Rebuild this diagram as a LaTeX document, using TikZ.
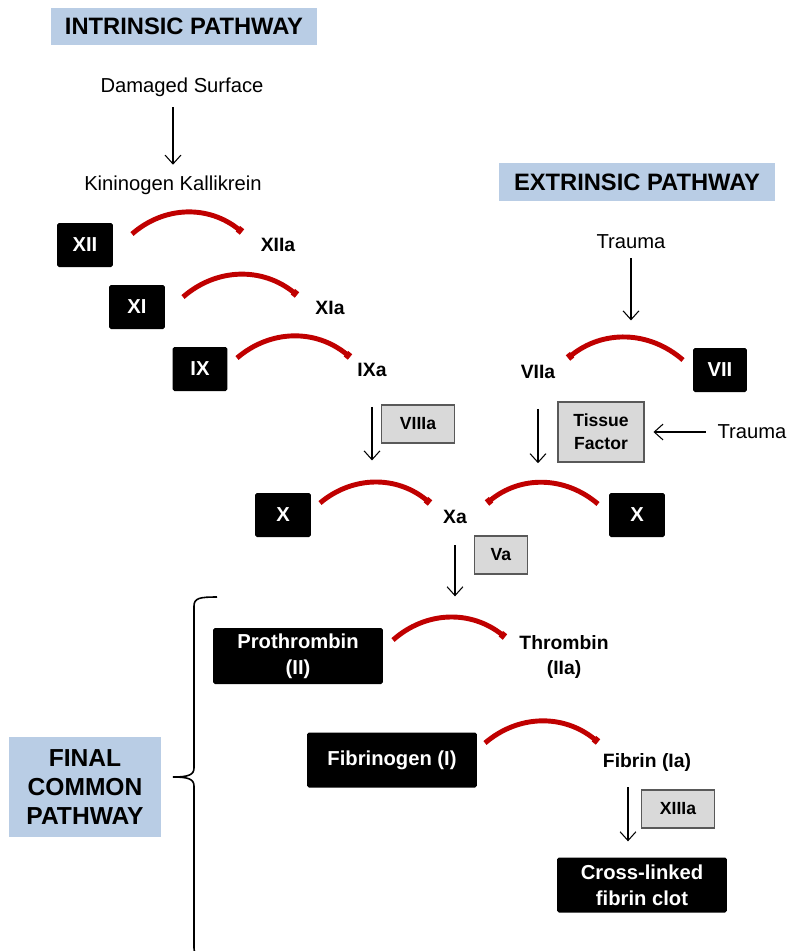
\documentclass[tikz,border=0pt]{standalone}
\usepackage{fontspec}
\setmainfont{Liberation Sans}
\usetikzlibrary{arrows.meta,calc}

\definecolor{headblue}{RGB}{185,205,229}
\definecolor{facgrey}{RGB}{217,217,217}
\definecolor{arcred}{RGB}{192,0,0}

\tikzset{
  head/.style={fill=headblue, inner sep=0, font=\bfseries\fontsize{13.5}{16}\selectfont},
  fac/.style={fill=black, text=white, rounded corners=1pt, inner sep=0, align=center,
    minimum width=1.12cm, minimum height=0.88cm, font=\bfseries\fontsize{11.5}{15}\selectfont},
  cof/.style={fill=facgrey, draw=black!65, line width=0.8pt, inner sep=0, align=center,
    minimum width=1.46cm, minimum height=0.76cm, font=\bfseries\fontsize{10}{13}\selectfont},
  act/.style={inner sep=2pt, align=center, font=\bfseries\fontsize{11}{14.2}\selectfont},
  txt/.style={inner sep=2pt, font=\fontsize{11.5}{14}\selectfont},
  flow/.style={-{Straight Barb[length=5pt,width=9pt]}, line width=0.6pt,
    shorten <=4pt, shorten >=4pt},
  conv/.style={arcred, line width=2.8pt, -{Square[length=3pt,width=4pt]}},
}

\begin{document}
\begin{tikzpicture}[x=0.02cm, y=-0.02cm]
\useasboundingbox (0,0) rectangle (788,951);

% pathway headings
\node[head, minimum width=5.32cm, minimum height=0.74cm] (intr) at (184,26) {INTRINSIC PATHWAY};
\node[head, minimum width=5.54cm, minimum height=0.76cm] (extr) at (637,182) {EXTRINSIC PATHWAY};
\node[head, minimum width=3.04cm, minimum height=2cm, align=center,
  font=\bfseries\fontsize{14}{16.4}\selectfont] (fcp) at (85,787) {FINAL\\COMMON\\PATHWAY};

% intrinsic
\node[txt] (dmg) at (182,87) {Damaged Surface};
\node[txt] (kin) at (173,185) {Kininogen Kallikrein};
\node[fac] (xii) at (85,245) {XII};
\node[act] (xiia) at (278,245) {XIIa};
\node[fac] (xi) at (137,307) {XI};
\node[act] (xia) at (330,308) {XIa};
\node[fac, minimum width=1.1cm] (ix) at (200,369) {IX};
\node[act] (ixa) at (372,370) {IXa};
\node[cof] (viiia) at (418,424) {VIIIa};

% extrinsic
\node[txt] (trm1) at (631,242) {Trauma};
\node[act] (viia) at (538,372) {VIIa};
\node[fac, minimum width=1.08cm] (vii) at (720,370) {VII};
\node[cof, minimum width=1.72cm, minimum height=1.2cm] (tf) at (601,432) {Tissue\\Factor};
\node[txt] (trm2) at (752,432) {Trauma};

% factor X
\node[fac] (xl) at (283,515) {X};
\node[act] (xa) at (455,517) {Xa};
\node[fac] (xr) at (637,515) {X};
\node[cof, minimum width=1.06cm] (va) at (501,555) {Va};

% common pathway
\node[fac, minimum width=3.4cm, minimum height=1.12cm] (pro) at (298,656) {Prothrombin\\(II)};
\node[act] (thr) at (564,657) {Thrombin\\(IIa)};
\node[fac, minimum width=3.4cm, minimum height=1.1cm] (fib) at (392,760) {Fibrinogen (I)};
\node[act] (fbn) at (647,762) {Fibrin (Ia)};
\node[cof] (xiiia) at (678,809) {XIIIa};
\node[fac, minimum width=3.4cm, minimum height=1.1cm] (clot) at (642,885) {Cross-linked\\fibrin clot};

% activation arcs
\draw[conv] ($(xii)+(47,-11)$) to[bend left=40] ($(xiia)+(-36,-13)$);
\draw[conv] ($(xi)+(46,-10)$) to[bend left=40] ($(xia)+(-33,-13)$);
\draw[conv] ($(ix)+(37,-11)$) to[bend left=40] ($(ixa)+(-22,-13)$);
\draw[conv] ($(vii)+(-37,-10)$) to[bend right=40] coordinate[pos=0.5] (c7) ($(viia)+(30,-14)$);
\draw[conv] ($(xl)+(37,-12)$) to[bend left=40] coordinate[pos=0.47] (cxl) ($(xa)+(-25,-14)$);
\draw[conv] ($(xr)+(-39,-11)$) to[bend right=40] coordinate[pos=0.5] (cxr) ($(xa)+(32,-14)$);
\draw[conv] ($(pro)+(95,-16)$) to[bend left=40] coordinate[pos=0.55] (cpro) ($(thr)+(-59,-20)$);
\draw[conv] ($(fib)+(93,-17)$) to[bend left=40] ($(fbn)+(-49,-20)$);

% arrows
\draw[flow] (kin |- dmg.south) -- (kin.north);
\draw[flow, shorten <=3pt, shorten >=9.6pt] (trm1.south) -- (trm1 |- c7);
\draw[flow, shorten <=15pt, shorten >=12.5pt] (ixa.south) -- (ixa |- cxl);
\draw[flow, shorten <=15pt, shorten >=11pt] (viia.south) -- (viia |- cxr);
\draw[flow, shorten <=10pt, shorten >=12pt] (xa.south) -- (xa |- cpro);
\draw[flow, shorten <=7pt, shorten >=9pt] ($(fbn.south)+(-19,0)$) -- ($(clot.north)+(-14,0)$);
\draw[flow, shorten <=4.5pt, shorten >=5pt] (trm2.west) -- (tf.east);

% brace
\draw[line width=0.9pt] (217,597) .. controls (200,597) and (194,598) .. (194,606)
  -- (194,768) .. controls (194,775) and (188,777) .. (173,777)
  .. controls (188,777) and (194,779) .. (194,786)
  -- (194,948) .. controls (194,956) and (200,957) .. (217,957);
\end{tikzpicture}
\end{document}
